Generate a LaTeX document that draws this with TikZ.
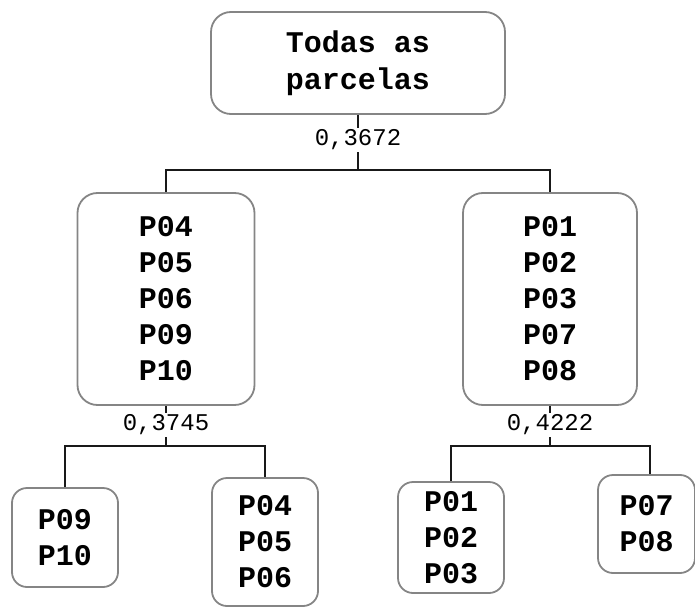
\documentclass[tikz,border=0pt]{standalone}
\usepackage{fontspec}
\setmonofont{Liberation Mono}
\begin{document}
\begin{tikzpicture}[x=1pt,y=-1pt,
  box/.style={draw=black!48, line width=1.8pt, rounded corners=20pt, align=center,
    font=\fontsize{30}{36}\selectfont\ttfamily\bfseries, inner sep=0pt},
  sbox/.style={box, rounded corners=15pt},
  lbl/.style={fill=white, inner sep=1.5pt, font=\fontsize{24}{26}\selectfont\ttfamily},
  conn/.style={line width=2.3pt, black!90}]
\useasboundingbox (0,0) rectangle (695,612);
% nodes
\node[box, minimum width=294pt, minimum height=102pt] (top) at (358,63) {Todas as\\[1pt]parcelas};
\node[box, minimum width=177pt, minimum height=212pt] (L) at (166,299) {P04\\P05\\P06\\P09\\P10};
\node[box, minimum width=174pt, minimum height=212pt] (R) at (550,299) {P01\\P02\\P03\\P07\\P08};
\node[sbox, minimum width=106pt, minimum height=99pt] (LL) at (65,537.5) {P09\\P10};
\node[sbox, minimum width=106pt, minimum height=128pt] (LR) at (265,542) {P04\\P05\\P06};
\node[sbox, minimum width=106pt, minimum height=111pt] (RL) at (451,537.5) {P01\\P02\\P03};
\node[sbox, minimum width=97pt, minimum height=98pt] (RR) at (646.5,524) {P07\\P08};
% junctions
\coordinate (j1) at (358,170);
\coordinate (j2) at (166,446);
\coordinate (j3) at (550,446);
% connectors
\draw[conn] (top.south) -- (j1);
\node[lbl] (v1) at (358,140) {0,3672};
\draw[conn] (L.north) |- (j1) -| (R.north);
\draw[conn] (L.south) -- (j2);
\node[lbl] (v2) at (166,425) {0,3745};
\draw[conn] (LL.north) |- (j2) -| (LR.north);
\draw[conn] (R.south) -- (j3);
\node[lbl] (v3) at (550,425) {0,4222};
\draw[conn] (RL.north) |- (j3) -| ([xshift=3.5pt]RR.north);
\end{tikzpicture}
\end{document}
